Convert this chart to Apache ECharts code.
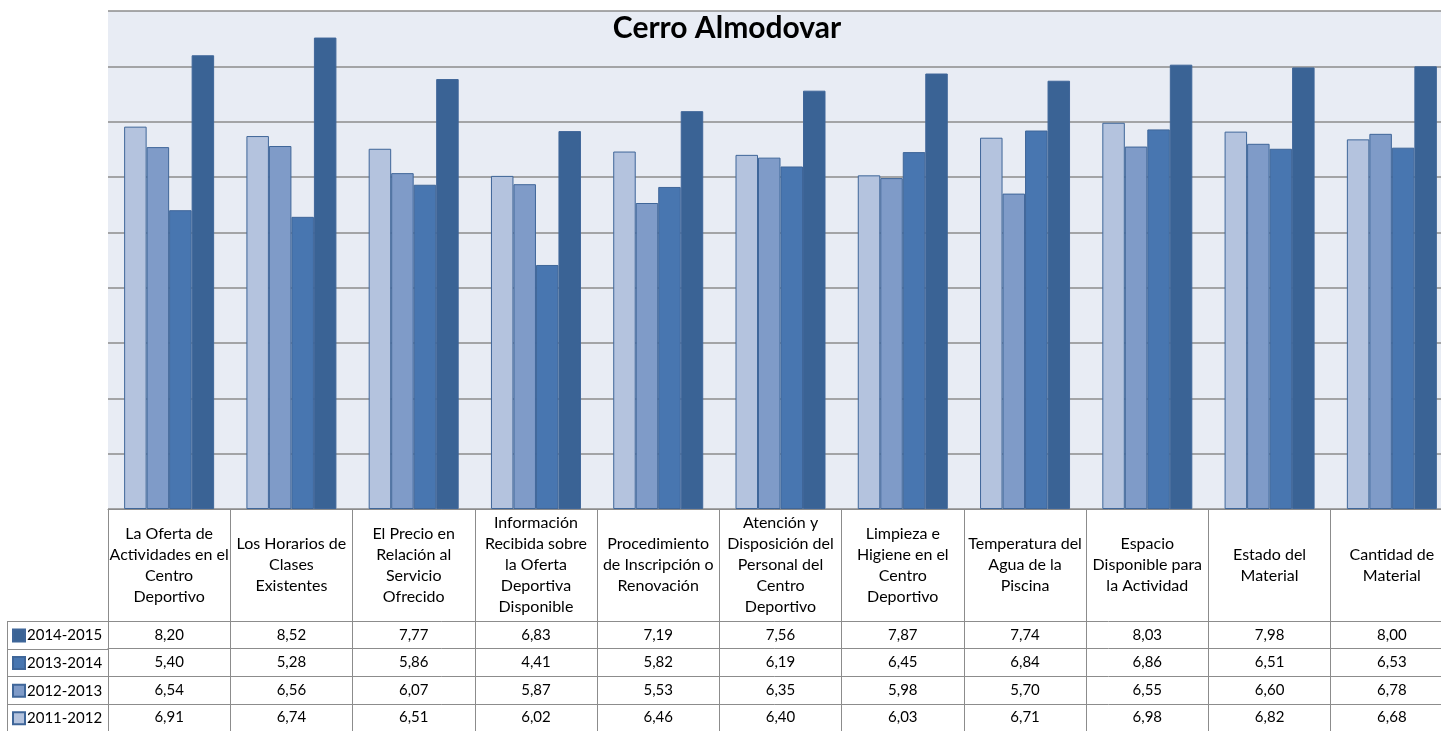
<!DOCTYPE html>
<html>
<head>
<meta charset="utf-8">
<title>Cerro Almodovar</title>
<script src="https://cdn.jsdelivr.net/npm/echarts@6/dist/echarts.min.js"></script>
<style>
  html, body { margin: 0; padding: 0; background: #ffffff; }
  #chart { width: 1441px; height: 731px; }
</style>
</head>
<body>
<div id="chart"></div>
<script>
// Survey categories (header row of the data table)
const categories = [
  'La Oferta de\nActividades en el\nCentro\nDeportivo',
  'Los Horarios de\nClases\nExistentes',
  'El Precio en\nRelación al\nServicio\nOfrecido',
  'Información\nRecibida sobre\nla Oferta\nDeportiva\nDisponible',
  'Procedimiento\nde Inscripción o\nRenovación',
  'Atención y\nDisposición del\nPersonal del\nCentro\nDeportivo',
  'Limpieza e\nHigiene en el\nCentro\nDeportivo',
  'Temperatura del\nAgua de la\nPiscina',
  'Espacio\nDisponible para\nla Actividad',
  'Estado del\nMaterial',
  'Cantidad de\nMaterial'
];

// Scores per season
const season2011 = [6.91, 6.74, 6.51, 6.02, 6.46, 6.40, 6.03, 6.71, 6.98, 6.82, 6.68];
const season2012 = [6.54, 6.56, 6.07, 5.87, 5.53, 6.35, 5.98, 5.70, 6.55, 6.60, 6.78];
const season2013 = [5.40, 5.28, 5.86, 4.41, 5.82, 6.19, 6.45, 6.84, 6.86, 6.51, 6.53];
const season2014 = [8.20, 8.52, 7.77, 6.83, 7.19, 7.56, 7.87, 7.74, 8.03, 7.98, 8.00];

const seriesNames = ['2011-2012', '2012-2013', '2013-2014', '2014-2015'];
const seriesValues = [season2011, season2012, season2013, season2014];
const seriesColors = ['#b4c3de', '#7f9bc8', '#4876b0', '#3a6395'];
const borderColor = '#3f6699';

// Table rows, top to bottom
const tableRows = [
  { name: '2014-2015', values: season2014 },
  { name: '2013-2014', values: season2013 },
  { name: '2012-2013', values: season2012 },
  { name: '2011-2012', values: season2011 }
];

const FONT = 'Lato, "Noto Sans", sans-serif';
const LINE = '#8c8c8c';
const GRID_LEFT = 108, GRID_TOP = 11, GRID_W = 1345, GRID_H = 498;
const HEADER_H = 112;
const ROW_H = 27.6;

const fmt = v => v.toFixed(2).replace('.', ',');

const chart = echarts.init(document.getElementById('chart'), null, { renderer: 'canvas' });

const xAxes = [{
  type: 'category',
  data: categories,
  gridIndex: 0,
  position: 'bottom',
  axisLine: { show: true, lineStyle: { color: LINE, width: 1 } },
  axisTick: { show: true, interval: 0, length: 222, lineStyle: { color: LINE, width: 1 } },
  axisLabel: {
    interval: 0,
    margin: HEADER_H / 2,
    verticalAlign: 'middle',
    align: 'center',
    fontFamily: FONT,
    fontSize: 16,
    lineHeight: 21,
    color: '#000'
  }
}];

tableRows.forEach((row, i) => {
  xAxes.push({
    type: 'category',
    data: categories,
    gridIndex: 0,
    position: 'bottom',
    offset: HEADER_H + ROW_H * i,
    axisLine: { show: true, lineStyle: { color: LINE, width: 1 } },
    axisTick: { show: false },
    axisLabel: {
      interval: 0,
      margin: ROW_H / 2,
      verticalAlign: 'middle',
      fontFamily: FONT,
      fontSize: 15,
      color: '#000',
      formatter: (v, idx) => fmt(row.values[idx])
    }
  });
});

// Border lines of the legend column of the table
const legendLines = [];
for (let i = 0; i < 4; i++) {
  const y = Math.round(GRID_TOP + GRID_H + HEADER_H + ROW_H * i) + 0.5;
  legendLines.push({
    type: 'line',
    shape: { x1: 7, y1: y, x2: GRID_LEFT, y2: y },
    style: { stroke: LINE, lineWidth: 1 }
  });
}
legendLines.push({
  type: 'line',
  shape: { x1: 7.5, y1: Math.round(GRID_TOP + GRID_H + HEADER_H) + 0.5, x2: 7.5, y2: 731 },
  style: { stroke: LINE, lineWidth: 1 }
});

const option = {
  animation: false,
  backgroundColor: '#ffffff',
  title: {
    text: 'Cerro Almodovar',
    left: 722,
    textAlign: 'center',
    top: 8,
    textStyle: { fontFamily: FONT, fontSize: 30, fontWeight: 'bold', color: '#000' }
  },
  legend: {
    orient: 'vertical',
    left: 12,
    top: GRID_TOP + GRID_H + HEADER_H + 7,
    height: 120,
    padding: 0,
    data: ['2014-2015', '2013-2014', '2012-2013', '2011-2012'],
    icon: 'rect',
    itemWidth: 12,
    itemHeight: 12,
    itemGap: ROW_H - 15,
    selectedMode: false,
    textStyle: { fontFamily: FONT, fontSize: 15, lineHeight: 15, color: '#000', padding: [0, 0, 0, -3] }
  },
  grid: {
    left: GRID_LEFT,
    top: GRID_TOP,
    width: GRID_W,
    height: GRID_H,
    outerBoundsMode: 'none',
    containLabel: false,
    show: true,
    backgroundColor: '#e8ecf4',
    borderWidth: 0
  },
  xAxis: xAxes,
  yAxis: {
    type: 'value',
    min: 0,
    max: 9,
    interval: 1,
    axisLine: { show: false },
    axisTick: { show: false },
    axisLabel: { show: false },
    splitLine: { show: true, lineStyle: { color: LINE, width: 1.6 } }
  },
  series: seriesNames.map((name, i) => ({
    name: name,
    type: 'bar',
    xAxisIndex: 0,
    data: seriesValues[i],
    barWidth: 22.5,
    barGap: '0%',
    itemStyle: { color: seriesColors[i], borderColor: borderColor, borderWidth: 1 }
  })),
  graphic: legendLines
};

chart.setOption(option);
</script>
</body>
</html>
